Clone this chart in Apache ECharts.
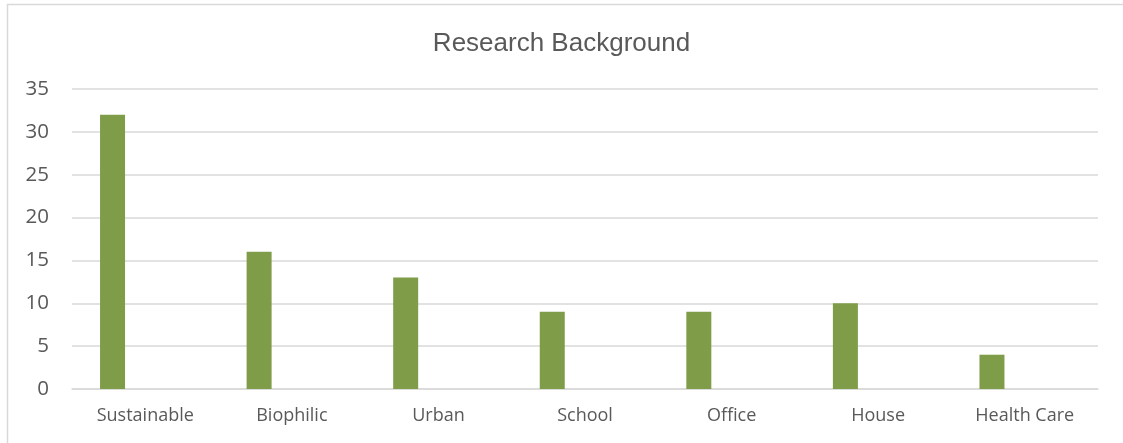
<!DOCTYPE html>
<html><head><meta charset="utf-8">
<script src="https://cdn.jsdelivr.net/npm/echarts@6/dist/echarts.min.js"></script>
<style>html,body{margin:0;padding:0;background:#fff}#c{width:1123px;height:443px}</style>
</head><body><div id="c"></div>
<script>
const categories = ['Sustainable','Biophilic','Urban','School','Office','House','Health Care'];
const values = [32, 16, 13, 9, 9, 10, 4];
const emptySeries = [];
const yTicks = [0, 5, 10, 15, 20, 25, 30, 35];

const chart = echarts.init(document.getElementById('c'));
chart.setOption({
  animation: false,
  backgroundColor: '#fff',
  title: {
    text: 'Research Background', left: 'center', top: 26,
    textStyle: { fontFamily: 'Liberation Sans', fontSize: 26, fontWeight: 'normal', color: '#595959' }
  },
  graphic: [{
    type: 'rect', shape: { x: 7.5, y: 4.5, width: 1130, height: 450 },
    style: { fill: 'none', stroke: '#d9d9d9', lineWidth: 1.5 }, silent: true
  }],
  grid: { left: 72, right: 25, top: 89, bottom: 54 },
  xAxis: {
    type: 'category', data: categories,
    axisLine: { lineStyle: { color: '#d9d9d9', width: 1.5 } },
    axisTick: { show: false },
    axisLabel: { color: '#595959', fontFamily: 'Open Sans', fontSize: 18, margin: 18 }
  },
  yAxis: {
    type: 'value', min: yTicks[0], max: yTicks[yTicks.length - 1], interval: 5,
    axisLine: { show: false }, axisTick: { show: false },
    splitLine: { lineStyle: { color: '#d9d9d9', width: 1.5 } },
    axisLabel: { color: '#595959', fontFamily: 'Open Sans', fontSize: 20.5, margin: 23 }
  },
  series: [
    { type: 'bar', data: values, barWidth: 25, barGap: '162%', itemStyle: { color: '#7f9c49' } },
    { type: 'bar', data: emptySeries, barWidth: 25 }
  ]
});
</script></body></html>
